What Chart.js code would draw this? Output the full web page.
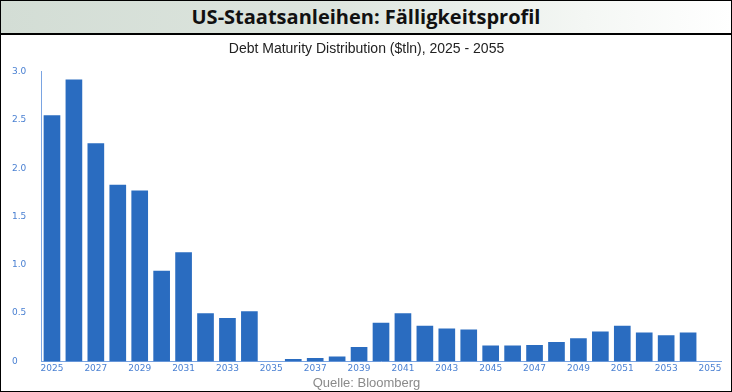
<!DOCTYPE html>
<html>
<head>
<meta charset="utf-8">
<script src="https://cdn.jsdelivr.net/npm/chart.js@4"></script>
<style>
    body { margin: 0; background: #fff; }
    #wrap { position: relative; width: 732px; height: 392px; overflow: hidden; background: #fff; }
    #frame { position: absolute; left: 0; top: 0; width: 730px; height: 390px; border: 1px solid #000; pointer-events: none; }
    #head {
        position: absolute; left: 1px; top: 1px; width: 730px; height: 32px;
        background: linear-gradient(to right, #d3ddd5 0%, #dde5de 45%, #f4f7f4 80%, #ffffff 100%);
        border-bottom: 2px solid #000;
        font: bold 20px "Liberation Sans Narrow", "Open Sans", sans-serif;
        color: #111; text-align: center; line-height: 32px;
    }
    #chartBox { position: absolute; left: 0; top: 35px; width: 732px; height: 356px; }
</style>
</head>
<body>
<div id="wrap">
    <div id="head">US-Staatsanleihen: Fälligkeitsprofil</div>
    <div id="chartBox"><canvas id="debtChart"></canvas></div>
    <div id="frame"></div>
</div>
<script>
// data (USD trillions maturing per year)
const years = ['2025', '2026', '2027', '2028', '2029', '2030', '2031', '2032', '2033', '2034',
    '2035', '2036', '2037', '2038', '2039', '2040', '2041', '2042', '2043', '2044',
    '2045', '2046', '2047', '2048', '2049', '2050', '2051', '2052', '2053', '2054', '2055'];
const maturing = [2.55, 2.92, 2.26, 1.83, 1.77, 0.94, 1.13, 0.50, 0.45, 0.52,
    0, 0.025, 0.035, 0.05, 0.15, 0.40, 0.50, 0.37, 0.34, 0.33,
    0.165, 0.165, 0.17, 0.20, 0.24, 0.31, 0.37, 0.30, 0.27, 0.30, 0];
const yTicks = [0, 0.5, 1.0, 1.5, 2.0, 2.5, 3.0];

const chartTitle = 'Debt Maturity Distribution ($tln), 2025 - 2055';
const sourceNote = 'Quelle: Bloomberg';

const axisBlue = '#7aa4e2';
const tickBlue = '#4a80d2';
const tickFont = { family: 'DejaVu Sans', size: 9 };

const ctx = document.getElementById('debtChart').getContext('2d');
new Chart(ctx, {
    type: 'bar',
    data: {
        labels: years,
        datasets: [{
            data: maturing,
            backgroundColor: '#2a6cc0',
            borderWidth: 0,
            categoryPercentage: 1,
            barPercentage: 0.76
        }]
    },
    options: {
        responsive: true,
        maintainAspectRatio: false,
        animation: false,
        layout: { padding: { left: 12, right: 11, top: 0, bottom: 0 } },
        plugins: {
            legend: { display: false },
            tooltip: { enabled: false },
            title: {
                display: true,
                text: chartTitle,
                color: '#222',
                font: { family: 'Liberation Sans', size: 14, weight: 'normal' },
                padding: { top: 6, bottom: 14 }
            },
            subtitle: {
                display: true,
                position: 'bottom',
                text: sourceNote,
                color: '#8a8a8a',
                font: { family: 'Liberation Sans', size: 13, weight: 'normal' },
                padding: { top: 0, bottom: 0 }
            }
        },
        scales: {
            x: {
                afterFit: scale => { scale.height = 14; },
                grid: { display: false, drawTicks: false },
                border: { display: true, color: axisBlue, width: 1 },
                ticks: {
                    color: tickBlue,
                    font: tickFont,
                    autoSkip: false,
                    maxRotation: 0,
                    padding: 2,
                    callback: (v, i) => (i % 2 === 0 ? years[i] : '')
                }
            },
            y: {
                min: 0,
                max: 3,
                afterBuildTicks: scale => { scale.ticks = yTicks.map(v => ({ value: v })); },
                afterFit: scale => { scale.width = 29; },
                grid: { display: false, drawTicks: false },
                border: { display: true, color: axisBlue, width: 1 },
                ticks: {
                    color: tickBlue,
                    font: tickFont,
                    crossAlign: 'far',
                    padding: 6,
                    callback: v => (v === 0 ? '0' : v.toFixed(1))
                }
            }
        }
    }
});
</script>
</body>
</html>
